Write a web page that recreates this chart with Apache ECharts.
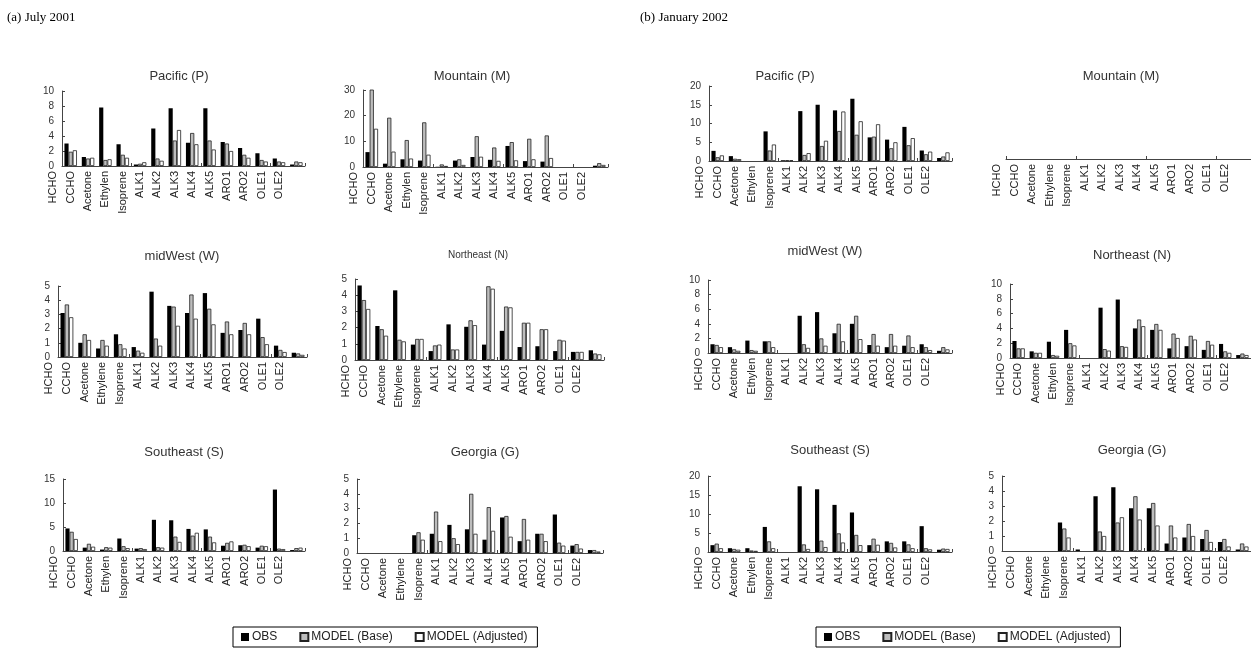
<!DOCTYPE html>
<html>
<head>
<meta charset="utf-8">
<script src="https://cdn.jsdelivr.net/npm/echarts@6/dist/echarts.min.js"></script>
<style>
  html, body { margin: 0; padding: 0; background: #fff; }
  #chart { width: 1251px; height: 652px; }
</style>
</head>
<body>
<div id="chart"></div>
<script>
// Species (category) names and the two spellings used on the axes
const species = ['HCHO', 'CCHO', 'Acetone', 'Ethylene', 'Isoprene', 'ALK1', 'ALK2', 'ALK3', 'ALK4', 'ALK5', 'ARO1', 'ARO2', 'OLE1', 'OLE2'];
const speciesCut = ['HCHO', 'CCHO', 'Acetone', 'Ethylen', 'Isoprene', 'ALK1', 'ALK2', 'ALK3', 'ALK4', 'ALK5', 'ARO1', 'ARO2', 'OLE1', 'OLE2'];

const seriesNames = ['OBS', 'MODEL (Base)', 'MODEL (Adjusted)'];

// (a) July 2001
const julPacificObs  = [3.0, 1.2, 7.8, 2.9, 0.2, 5.0, 7.7, 3.1, 7.7, 3.2, 2.4, 1.7, 1.0, 0.2];
const julPacificBase = [1.9, 1.0, 0.8, 1.5, 0.3, 1.0, 3.4, 4.4, 3.4, 3.0, 1.5, 0.8, 0.6, 0.6];
const julPacificAdj  = [2.1, 1.1, 0.9, 1.1, 0.5, 0.7, 4.8, 2.9, 2.2, 2.0, 1.1, 0.6, 0.5, 0.5];
const julPacificTicks = [0, 2, 4, 6, 8, 10];

const julMountainObs  = [5.8, 1.3, 3.0, 2.5, 0.1, 2.5, 3.9, 2.8, 8.2, 2.3, 2.1, 0, 0, 0.5];
const julMountainBase = [32, 19.2, 10.5, 17.4, 1.0, 3.0, 12.0, 7.6, 9.7, 11.0, 12.3, 0, 0, 1.5];
const julMountainAdj  = [14.9, 6.0, 3.3, 4.8, 0.4, 0.8, 4.0, 2.4, 2.6, 3.0, 3.5, 0, 0, 0.8];
const julMountainTicks = [0, 10, 20, 30];

const julMidwestObs  = [3.1, 1.0, 0.6, 1.6, 0.7, 4.6, 3.6, 3.1, 4.5, 1.7, 1.9, 2.7, 0.8, 0.3];
const julMidwestBase = [3.7, 1.6, 1.2, 0.9, 0.45, 1.3, 3.55, 4.4, 3.4, 2.5, 2.4, 1.4, 0.5, 0.25];
const julMidwestAdj  = [2.8, 1.2, 0.8, 0.6, 0.3, 0.8, 2.2, 2.7, 2.3, 1.6, 1.6, 0.9, 0.35, 0.15];
const julMidwestTicks = [0, 1, 2, 3, 4, 5];

const julNortheastObs  = [4.6, 2.1, 4.3, 0.95, 0.55, 2.2, 2.05, 0.95, 1.8, 0.8, 0.85, 0.55, 0.5, 0.6];
const julNortheastBase = [3.7, 1.9, 1.25, 1.3, 0.9, 0.65, 2.45, 4.55, 3.3, 2.3, 1.9, 1.25, 0.5, 0.4];
const julNortheastAdj  = [3.15, 1.5, 1.15, 1.3, 0.95, 0.65, 2.15, 4.4, 3.25, 2.3, 1.9, 1.2, 0.5, 0.35];
const julNortheastTicks = [0, 1, 2, 3, 4, 5];

const julSoutheastObs  = [4.7, 0.7, 0.3, 2.6, 0.5, 6.5, 6.4, 4.6, 4.5, 1.1, 1.2, 0.7, 12.8, 0.2];
const julSoutheastBase = [4.0, 1.5, 0.8, 1.0, 0.6, 0.8, 3.0, 3.2, 3.0, 1.7, 1.3, 1.1, 0.5, 0.6];
const julSoutheastAdj  = [2.5, 0.9, 0.7, 0.6, 0.4, 0.7, 1.9, 3.8, 1.8, 2.0, 1.0, 1.0, 0.4, 0.7];
const julSoutheastTicks = [0, 5, 10, 15];

const julGeorgiaObs  = [0, 0, 0, 1.2, 1.3, 1.9, 1.6, 0.9, 2.4, 0.8, 1.3, 2.6, 0.5, 0.2];
const julGeorgiaBase = [0, 0, 0, 1.4, 2.8, 1.0, 4.0, 3.1, 2.5, 2.3, 1.3, 0.7, 0.6, 0.2];
const julGeorgiaAdj  = [0, 0, 0, 0.9, 0.8, 0.6, 1.3, 1.5, 1.1, 0.9, 0.8, 0.5, 0.3, 0.1];
const julGeorgiaTicks = [0, 1, 2, 3, 4, 5];

// (b) January 2002
const janPacificObs  = [2.7, 1.3, 0, 7.9, 0.2, 13.3, 15.0, 13.5, 16.6, 6.3, 5.7, 9.1, 2.8, 0.8];
const janPacificBase = [1.0, 0.6, 0, 2.8, 0.2, 1.6, 4.0, 8.0, 7.0, 6.5, 3.4, 4.2, 1.8, 1.2];
const janPacificAdj  = [1.5, 0.5, 0, 4.4, 0.2, 2.1, 5.4, 13.2, 10.6, 9.8, 5.0, 6.1, 2.5, 2.3];
const janPacificTicks = [0, 5, 10, 15, 20];

const janMidwestObs  = [1.2, 0.8, 1.7, 1.6, 0, 5.1, 5.6, 2.7, 4.0, 1.1, 0.8, 1.0, 1.2, 0.3];
const janMidwestBase = [1.1, 0.5, 0.4, 1.6, 0, 1.2, 2.0, 4.0, 5.1, 2.6, 2.6, 2.4, 0.8, 0.8];
const janMidwestAdj  = [0.8, 0.3, 0.3, 0.8, 0, 0.7, 1.0, 1.6, 1.9, 1.0, 1.0, 0.8, 0.4, 0.5];
const janMidwestTicks = [0, 2, 4, 6, 8, 10];

const janNortheastObs  = [2.3, 0.9, 2.2, 3.8, 0, 6.8, 7.9, 4.0, 3.8, 1.3, 1.6, 1.1, 1.9, 0.4];
const janNortheastBase = [1.3, 0.7, 0.4, 2.0, 0, 1.2, 1.6, 5.2, 4.6, 3.3, 3.0, 2.3, 0.9, 0.6];
const janNortheastAdj  = [1.3, 0.7, 0.3, 1.7, 0, 1.0, 1.5, 4.3, 3.8, 2.7, 2.5, 1.8, 0.7, 0.4];
const janNortheastTicks = [0, 2, 4, 6, 8, 10];

const janSoutheastObs  = [1.8, 1.0, 1.0, 6.6, 0, 17.3, 16.5, 12.4, 10.4, 1.8, 2.8, 2.8, 6.8, 0.6];
const janSoutheastBase = [2.2, 0.8, 0.4, 2.8, 0, 2.0, 3.0, 4.9, 4.5, 3.5, 2.4, 2.0, 1.0, 0.9];
const janSoutheastAdj  = [1.0, 0.6, 0.3, 1.0, 0, 0.8, 1.3, 2.5, 1.8, 1.9, 1.2, 1.0, 0.7, 0.8];
const janSoutheastTicks = [0, 5, 10, 15, 20];

const janGeorgiaObs  = [0, 0, 0, 1.9, 0.1, 3.65, 4.25, 2.85, 2.85, 0.5, 0.9, 0.8, 0.6, 0.1];
const janGeorgiaBase = [0, 0, 0, 1.5, 0, 1.3, 1.9, 3.65, 3.2, 1.7, 1.8, 1.4, 0.8, 0.5];
const janGeorgiaAdj  = [0, 0, 0, 0.9, 0, 1.0, 2.25, 2.1, 1.7, 0.9, 1.0, 0.6, 0.3, 0.3];
const janGeorgiaTicks = [0, 1, 2, 3, 4, 5];

// ---- layout ----
const SANS = 'Liberation Sans, Arial, sans-serif';
const SERIF = 'Liberation Serif, Times New Roman, serif';
const AXIS_COLOR = '#444';

const panels = [
  { title: 'Pacific (P)',   tx: 179, ty: 76,  box: [62, 91, 243, 75],   labels: speciesCut, data: [julPacificObs, julPacificBase, julPacificAdj], ticks: julPacificTicks },
  { title: 'Mountain (M)',  tx: 472, ty: 76,  box: [363, 90, 245, 77],  labels: speciesCut, data: [julMountainObs, julMountainBase, julMountainAdj], ticks: julMountainTicks },
  { title: 'midWest (W)',   tx: 182, ty: 256, box: [58, 286, 249, 71],  labels: species,    data: [julMidwestObs, julMidwestBase, julMidwestAdj], ticks: julMidwestTicks },
  { title: 'Northeast (N)', tx: 478, ty: 255, box: [355, 279, 249, 81], labels: species,    data: [julNortheastObs, julNortheastBase, julNortheastAdj], ticks: julNortheastTicks, small: true },
  { title: 'Southeast (S)', tx: 184, ty: 452, box: [63, 479, 242, 72],  labels: speciesCut, data: [julSoutheastObs, julSoutheastBase, julSoutheastAdj], ticks: julSoutheastTicks },
  { title: 'Georgia (G)',   tx: 485, ty: 452, box: [357, 479, 246, 74], labels: species,    data: [julGeorgiaObs, julGeorgiaBase, julGeorgiaAdj], ticks: julGeorgiaTicks },

  { title: 'Pacific (P)',   tx: 785, ty: 76,  box: [709, 86, 243, 75],   labels: speciesCut, data: [janPacificObs, janPacificBase, janPacificAdj], ticks: janPacificTicks },
  { title: 'Mountain (M)',  tx: 1121, ty: 76, box: [1006, 84, 245, 75],  labels: species,    data: null, ticks: null },
  { title: 'midWest (W)',   tx: 825, ty: 251, box: [708, 280, 244, 73],  labels: speciesCut, data: [janMidwestObs, janMidwestBase, janMidwestAdj], ticks: janMidwestTicks },
  { title: 'Northeast (N)', tx: 1132, ty: 255, box: [1010, 284, 245, 74], labels: speciesCut, data: [janNortheastObs, janNortheastBase, janNortheastAdj], ticks: janNortheastTicks },
  { title: 'Southeast (S)', tx: 830, ty: 450, box: [708, 476, 244, 76],  labels: speciesCut, data: [janSoutheastObs, janSoutheastBase, janSoutheastAdj], ticks: janSoutheastTicks },
  { title: 'Georgia (G)',   tx: 1132, ty: 450, box: [1002, 476, 250, 75], labels: species,    data: [janGeorgiaObs, janGeorgiaBase, janGeorgiaAdj], ticks: janGeorgiaTicks }
];

const barStyles = [
  { color: '#000000' },
  { color: '#bdbdbd', borderColor: '#222', borderWidth: 0.8 },
  { color: '#ffffff', borderColor: '#222', borderWidth: 0.8 }
];

const grids = [], xAxes = [], yAxes = [], series = [];
const titles = [
  { text: '(a) July 2001', left: 7, top: 11, padding: 0, textStyle: { fontFamily: SERIF, fontSize: 13, fontWeight: 'normal', color: '#000' } },
  { text: '(b) January 2002', left: 640, top: 11, padding: 0, textStyle: { fontFamily: SERIF, fontSize: 13, fontWeight: 'normal', color: '#000' } }
];

panels.forEach(p => {
  const [left, top, width, height] = p.box;
  const step = width / species.length;
  const g = grids.length;

  // plotting grid
  grids.push({ left: left, top: top, width: width, height: height, containLabel: false });
  // label grid: one category wider, shifted left by one category
  grids.push({ left: left - step, top: top, width: width + step, height: height, containLabel: false });

  xAxes.push({
    gridIndex: g, type: 'category', data: species, boundaryGap: true,
    axisLine: { show: true, onZero: false, lineStyle: { color: AXIS_COLOR, width: 1 } },
    axisTick: { show: true, inside: true, length: 3, lineStyle: { color: AXIS_COLOR } },
    axisLabel: { show: false }, splitLine: { show: false }
  });
  xAxes.push({
    gridIndex: g + 1, type: 'category', data: p.labels.concat(['']), boundaryGap: true,
    axisLine: { show: false }, axisTick: { show: false }, splitLine: { show: false },
    axisLabel: { show: true, interval: 0, rotate: 90, margin: 5, fontSize: 11, color: '#222', fontFamily: SANS }
  });

  if (p.ticks) {
    const t = p.ticks;
    yAxes.push({
      gridIndex: g, type: 'value', min: t[0], max: t[t.length - 1], interval: t[1] - t[0],
      axisLine: { show: true, lineStyle: { color: AXIS_COLOR, width: 1 } },
      axisTick: { show: true, inside: true, length: 3, lineStyle: { color: AXIS_COLOR } },
      axisLabel: { fontSize: 10, color: '#333', margin: 8, fontFamily: SANS },
      splitLine: { show: false }
    });
  } else {
    yAxes.push({ gridIndex: g, type: 'value', min: 0, max: 1, show: false });
  }
  yAxes.push({ gridIndex: g + 1, type: 'value', min: 0, max: 1, show: false });

  if (p.data) {
    p.data.forEach((vals, k) => {
      series.push({
        name: seriesNames[k], type: 'bar', xAxisIndex: g, yAxisIndex: g,
        // species with no value get no bar at all
        data: vals.map(v => (v === 0 ? '-' : v)),
        barGap: '0%', barCategoryGap: '28%', clip: true,
        itemStyle: barStyles[k], emphasis: { disabled: true }, silent: true
      });
    });
  }

  titles.push({
    text: p.title, left: p.tx, top: p.ty - (p.small ? 5 : 6), textAlign: 'center', padding: 0,
    textStyle: { fontFamily: SANS, fontSize: p.small ? 10 : 13, fontWeight: 'normal', color: '#333' }
  });
});

const legendBase = {
  data: seriesNames, orient: 'horizontal', top: 627, selectedMode: false,
  icon: 'rect', itemWidth: 8, itemHeight: 8, itemGap: 22,
  borderColor: '#000', borderWidth: 1, padding: [4, 10, 4, 8],
  textStyle: { fontFamily: SANS, fontSize: 12, color: '#222', padding: [0, 0, 0, -2] }
};

const chart = echarts.init(document.getElementById('chart'), null, { renderer: 'canvas' });
chart.setOption({
  animation: false,
  backgroundColor: '#fff',
  title: titles,
  legend: [
    Object.assign({}, legendBase, { left: 233 }),
    Object.assign({}, legendBase, { left: 816 })
  ],
  grid: grids,
  xAxis: xAxes,
  yAxis: yAxes,
  series: series
});
</script>
</body>
</html>
